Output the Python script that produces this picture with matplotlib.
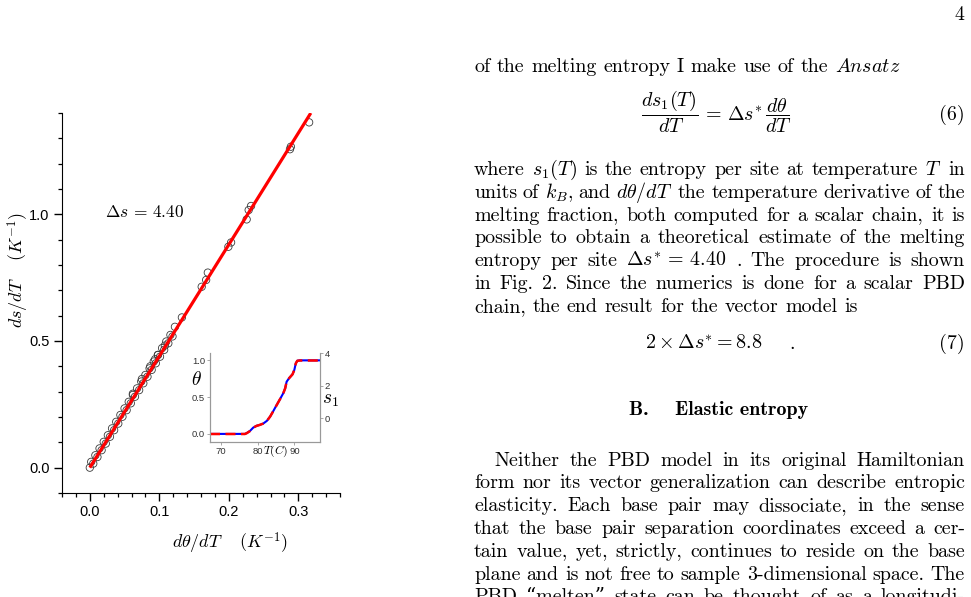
import re
import matplotlib
matplotlib.use("Agg")
import matplotlib.pyplot as plt
from matplotlib.ticker import MultipleLocator, FormatStrFormatter

plt.rcParams['mathtext.fontset'] = 'cm'
plt.rcParams['font.family'] = ['Liberation Sans', 'DejaVu Sans']

W, H = 971, 597
TEXT_FONT = ['cmr10', 'DejaVu Serif']
BOLD_FONT = ['cmb10', 'DejaVu Serif']
TSIZE = 14.4

# main panel: d(theta)/dT vs ds/dT
dtheta = [0.000, 0.002, 0.005, 0.008, 0.011, 0.014, 0.017, 0.020, 0.023, 0.026,
          0.029, 0.032, 0.035, 0.038, 0.041, 0.044, 0.047, 0.050, 0.053, 0.056,
          0.059, 0.062, 0.065, 0.068, 0.071, 0.074, 0.077, 0.080, 0.083, 0.086,
          0.089, 0.092, 0.095, 0.098, 0.101, 0.104, 0.107, 0.110, 0.113, 0.116,
          0.119,
          0.062, 0.075, 0.087, 0.094, 0.098, 0.108, 0.1225, 0.1325,
          0.161, 0.1674, 0.1698, 0.1994, 0.2033, 0.2257, 0.2286, 0.232,
          0.288, 0.2893, 0.3156]
dsdT = [0.000, 0.023, 0.016, 0.049, 0.042, 0.076, 0.069, 0.102, 0.095, 0.128,
        0.122, 0.155, 0.148, 0.181, 0.174, 0.208, 0.201, 0.234, 0.227, 0.260,
        0.254, 0.287, 0.280, 0.313, 0.306, 0.340, 0.333, 0.366, 0.359, 0.392,
        0.386, 0.419, 0.412, 0.445, 0.438, 0.472, 0.465, 0.498, 0.491, 0.524,
        0.518,
        0.292, 0.350, 0.400, 0.428, 0.445, 0.482, 0.556, 0.593,
        0.714, 0.741, 0.770, 0.872, 0.889, 0.980, 1.017, 1.033,
        1.257, 1.267, 1.363]
fit_x = [0.0, 0.318]
fit_y = [0.0, 1.40]

# inset: melting curve theta(T) and entropy s1(T)
temp = [67, 70, 74, 76.5, 77.0, 77.9, 78.8, 79.7, 80.6, 81.5, 82.5, 83.4, 84.3,
        85.2, 86.1, 87.0, 87.5, 87.9, 88.6, 89.5, 90.0, 90.4, 90.8, 91.5, 94, 97]
theta = [0.0, 0.0, 0.0, 0.0, 0.01, 0.04, 0.086, 0.11, 0.123, 0.14, 0.177, 0.236,
         0.314, 0.395, 0.473, 0.555, 0.62, 0.71, 0.76, 0.81, 0.87, 0.96, 0.995,
         1.0, 1.0, 1.0]
s1 = [-0.97, -0.97, -0.97, -0.97, -0.92, -0.79, -0.58, -0.47, -0.41, -0.33, -0.17,
      0.10, 0.45, 0.81, 1.17, 1.54, 1.83, 2.24, 2.46, 2.69, 2.96, 3.36, 3.52,
      3.54, 3.54, 3.54]

fig = plt.figure(figsize=(W / 100, H / 100), dpi=100)


def box(l, t, r, b):
    return [l / W, 1 - b / H, (r - l) / W, (b - t) / H]


ax = fig.add_axes(box(62, 113, 340, 493))
ax.scatter(dtheta, dsdT, s=28, facecolors='none', edgecolors='#3a3a3a',
           linewidths=0.6, zorder=2)
ax.plot(fit_x, fit_y, color='#ff0000', lw=2.3, zorder=3, solid_capstyle='butt')
ax.set_xlim(-0.04, 0.36)
ax.set_ylim(-0.1, 1.4)
ax.xaxis.set_major_locator(MultipleLocator(0.1))
ax.xaxis.set_minor_locator(MultipleLocator(0.02))
ax.yaxis.set_major_locator(MultipleLocator(0.5))
ax.yaxis.set_minor_locator(MultipleLocator(0.1))
ax.xaxis.set_major_formatter(FormatStrFormatter('%.1f'))
ax.yaxis.set_major_formatter(FormatStrFormatter('%.1f'))
ax.tick_params(which='major', direction='out', length=6, width=1, labelsize=10.5, pad=3)
ax.tick_params(which='minor', direction='out', length=3, width=0.9)
ax.spines['top'].set_visible(False)
ax.spines['right'].set_visible(False)

fig.text(230 / W, 1 - 543 / H, r'$d\theta/dT\quad\;(K^{-1})$', ha='center', va='center', size=13)
fig.text(18 / W, 1 - 270 / H, r'$ds/dT\quad\;(K^{-1})$', ha='center', va='center',
         size=13, rotation=90)
fig.text(105 / W, 1 - 212 / H, r'$\Delta s\,=\,4.40$', ha='left', va='center', size=12.5)

# inset
axi = fig.add_axes(box(210, 353, 320, 442))
axi.plot(temp, theta, color='#0000ff', lw=1.5)
axi.set_xlim(67, 97)
axi.set_ylim(-0.11, 1.1)
axi.set_xticks([70, 80, 90])
axi.set_yticks([0.0, 0.5, 1.0])
axi.yaxis.set_major_formatter(FormatStrFormatter('%.1f'))
axr = axi.twinx()
axr.plot(temp, s1, color='#ff0000', lw=1.8, dashes=(4, 2.2))
axr.set_ylim(-1.46, 4.0)
axr.set_yticks([0, 2, 4])
for a in (axi, axr):
    a.patch.set_visible(False)
    a.spines['top'].set_visible(False)
    for sp in ('left', 'right', 'bottom'):
        a.spines[sp].set_color('#999999')
        a.spines[sp].set_linewidth(0.8)
    a.tick_params(length=2, width=0.6, color='#999999', labelsize=6.8,
                  labelcolor='#333333', pad=1.5)
fig.text(196 / W, 1 - 380 / H, r'$\theta$', ha='center', va='center', size=14)
fig.text(330 / W, 1 - 400 / H, r'$s_1$', ha='center', va='center', size=14)
fig.text(276 / W, 1 - 451 / H, r'$T(C)$', ha='center', va='center', size=8.5)

# text column
renderer = fig.canvas.get_renderer()
X0, X1 = 474, 965


def put_line(text, y, x0=X0, justify=True, fonts=TEXT_FONT):
    words = re.findall(r'(?:\$[^$]*\$|[^\s$])+', text)
    objs = [fig.text(0, 1 - y / H, w, size=TSIZE, family=fonts, va='baseline')
            for w in words]
    widths = [o.get_window_extent(renderer).width for o in objs]
    if justify and len(words) > 1:
        gap = (X1 - x0 - sum(widths)) / (len(words) - 1)
    else:
        gap = 6.7
    x = x0
    for o, w in zip(objs, widths):
        o.set_x(x / W)
        x += w + gap


fig.text(964 / W, 1 - 20 / H, '4', ha='right', va='baseline', size=TSIZE, family=TEXT_FONT)

put_line(r'of the melting entropy I make use of the $\mathit{Ansatz}$', 71.7, justify=False)
fig.text(717 / W, 1 - 112 / H,
         r'$\dfrac{ds_1(T)}{dT}\,=\,\Delta s^{*}\,\dfrac{d\theta}{dT}$',
         ha='center', va='center', size=TSIZE)
fig.text(965 / W, 1 - 120 / H, '(6)', ha='right', va='baseline', size=TSIZE, family=TEXT_FONT)

para1 = [
    r'where $s_1(T)$ is the entropy per site at temperature $T$ in',
    r'units of $k_B$, and $d\theta/dT$ the temperature derivative of the',
    r'melting fraction, both computed for a scalar chain, it is',
    r'possible to obtain a theoretical estimate of the melting',
    r'entropy per site $\Delta s^{*}\,=\,4.40$ .  The procedure is shown',
    r'in Fig.  2.  Since the numerics is done for a scalar PBD',
]
for i, line in enumerate(para1):
    put_line(line, 175 + 22.8 * i)
put_line('chain, the end result for the vector model is', 175 + 22.8 * 6, justify=False)

fig.text(645 / W, 1 - 349 / H, r'$2\times\Delta s^{*}=8.8$', ha='left', va='baseline',
         size=TSIZE)
fig.text(789 / W, 1 - 349 / H, '.', ha='left', va='baseline', size=TSIZE, family=TEXT_FONT)
fig.text(965 / W, 1 - 349 / H, '(7)', ha='right', va='baseline', size=TSIZE, family=TEXT_FONT)

fig.text(718.5 / W, 1 - 415 / H, 'B.    Elastic entropy', ha='center', va='baseline',
         size=TSIZE, family=BOLD_FONT)

para2 = [
    'Neither the PBD model in its original Hamiltonian',
    'form nor its vector generalization can describe entropic',
    'elasticity.  Each base pair may dissociate, in the sense',
    'that the base pair separation coordinates exceed a cer-',
    'tain value, yet, strictly, continues to reside on the base',
    'plane and is not free to sample 3-dimensional space.  The',
    'PBD \u201cmelten\u201d state can be thought of as a longitudi-',
]
for i, line in enumerate(para2):
    put_line(line, 465.7 + 22.8 * i, x0=X0 + 20 if i == 0 else X0)

fig.savefig('out.png', dpi=100)
